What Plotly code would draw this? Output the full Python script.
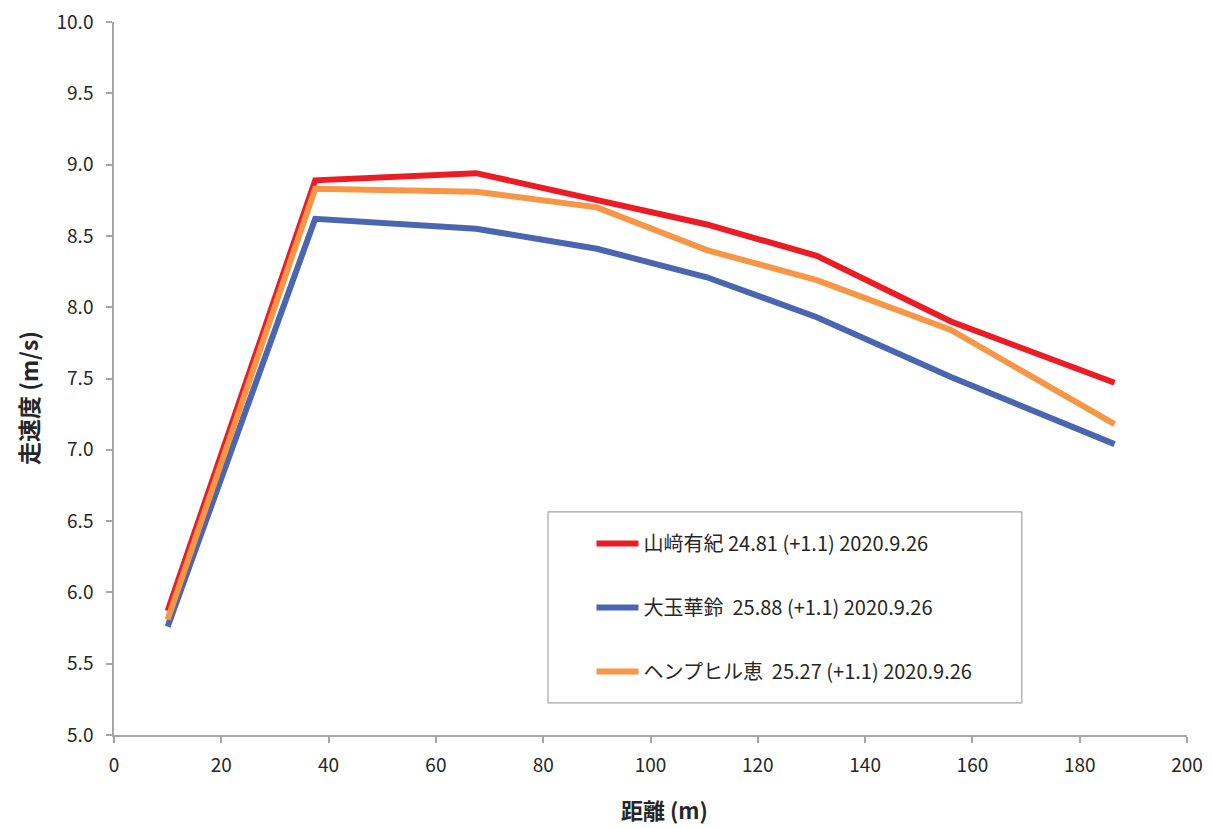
import plotly.graph_objects as go

distance = [10, 37.5, 67.5, 90, 110.5, 131, 156, 186.5]
yamasaki = [5.87, 8.89, 8.94, 8.75, 8.58, 8.36, 7.90, 7.47]
otama = [5.76, 8.62, 8.55, 8.41, 8.21, 7.93, 7.51, 7.04]
hempill = [5.81, 8.83, 8.81, 8.70, 8.40, 8.19, 7.84, 7.18]

names = [
    "山﨑有紀 24.81 (+1.1) 2020.9.26",
    "大玉華鈴  25.88 (+1.1) 2020.9.26",
    "ヘンプヒル恵  25.27 (+1.1) 2020.9.26",
]
colors = ["#ED1C24", "#4A66B0", "#F79646"]
series = [yamasaki, otama, hempill]

x_title = "距離 (m)"
y_title = "走速度 (m/s)"

FONT = "Noto Sans CJK JP"

fig = go.Figure()
for i, (nm, ys, c) in enumerate(zip(names, series, colors)):
    fig.add_trace(go.Scatter(
        x=distance, y=ys, mode="lines", name=nm,
        line=dict(color=c, width=6),
        legendgroup=f"g{i}",
    ))

fig.update_layout(
    width=1204, height=820,
    margin=dict(l=106, r=25, t=14, b=93, autoexpand=False),
    paper_bgcolor="white", plot_bgcolor="white",
    font=dict(family=FONT, size=19, color="#262626"),
    showlegend=True,
    legend=dict(
        x=0.445, y=0.296, xanchor="left", yanchor="top",
        bgcolor="rgba(0,0,0,0)", borderwidth=0,
        tracegroupgap=35, itemwidth=42,
        font=dict(family=FONT, size=20, color="#262626"),
    ),
    shapes=[dict(
        type="rect", xref="paper", yref="paper",
        x0=0.4045, x1=0.846, y0=0.045, y1=0.3128,
        line=dict(color="#A6A6A6", width=1.2), fillcolor="rgba(0,0,0,0)",
        layer="below",
    )],
    annotations=[
        dict(text=f"<b>{x_title}</b>", xref="paper", yref="paper",
             x=0.5126, y=-0.104, xanchor="center", yanchor="middle",
             showarrow=False, font=dict(size=22, color="#262626")),
        dict(text=f"<b>{y_title}</b>", xref="paper", yref="paper",
             x=-0.0801, y=0.4727, xanchor="center", yanchor="middle",
             textangle=-90, showarrow=False, font=dict(size=23, color="#262626")),
    ],
    xaxis=dict(
        range=[0, 200], tickmode="linear", tick0=0, dtick=20,
        showgrid=False, zeroline=False, automargin=False,
        showline=True, linecolor="#A6A6A6", linewidth=1.5,
        ticks="outside", ticklen=6, tickcolor="#A6A6A6", tickwidth=1.5,
        ticklabelstandoff=6, ticklabeloverflow="allow",
        tickfont=dict(size=19, color="#262626"),
    ),
    yaxis=dict(
        range=[5, 10], tickmode="linear", tick0=5, dtick=0.5,
        tickformat=".1f",
        showgrid=False, zeroline=False, automargin=False,
        showline=True, linecolor="#A6A6A6", linewidth=1.5,
        ticks="outside", ticklen=6, tickcolor="#A6A6A6", tickwidth=1.5,
        ticklabelstandoff=9, ticklabeloverflow="allow",
        tickfont=dict(size=19, color="#262626"),
    ),
)

fig.write_html("out.html")
